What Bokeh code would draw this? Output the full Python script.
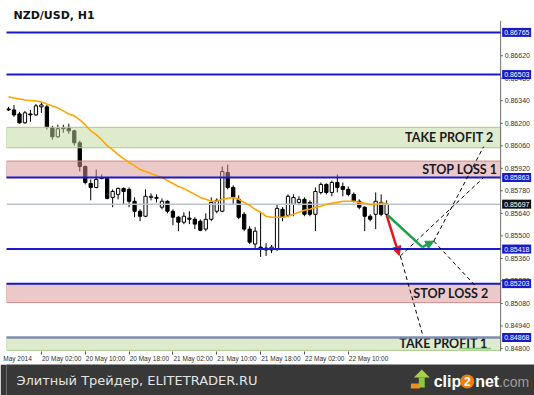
import numpy as np
from bokeh.plotting import figure
from bokeh.models import (Range1d, FixedTicker, BoxAnnotation, Span, Label, Arrow, NormalHead)
from bokeh.layouts import column
from bokeh.embed import file_html
from bokeh.resources import INLINE
from bokeh.core.properties import value

TITLE = "NZD/USD, H1"

# hourly candles, 19 May 20:00 .. 22 May 17:00
OPEN = [0.86289, 0.86283, 0.86258, 0.86203, 0.86258, 0.86252, 0.86302, 0.86302, 0.86172, 0.86116,
        0.86166, 0.86172, 0.86153, 0.86079, 0.85931, 0.85826, 0.85801, 0.85857, 0.85857, 0.85739,
        0.85758, 0.85795, 0.85789, 0.85715, 0.85653, 0.85622, 0.85739, 0.85733, 0.85678, 0.85715,
        0.85653, 0.85616, 0.85585, 0.85610, 0.85603, 0.85591, 0.85542, 0.85603, 0.85653, 0.85653,
        0.85894, 0.85801, 0.85727, 0.85634, 0.85542, 0.85449, 0.85430, 0.85424, 0.85412, 0.85418,
        0.85665, 0.85628, 0.85696, 0.85708, 0.85727, 0.85708, 0.85634, 0.85770, 0.85820, 0.85770,
        0.85832, 0.85807, 0.85789, 0.85758, 0.85715, 0.85678, 0.85622, 0.85634, 0.85708, 0.85634]
HIGH = [0.86302, 0.86314, 0.86271, 0.86277, 0.86283, 0.86320, 0.86333, 0.86314, 0.86184, 0.86191,
        0.86191, 0.86197, 0.86160, 0.86092, 0.85937, 0.85851, 0.85912, 0.85882, 0.85869, 0.85789,
        0.85801, 0.85801, 0.85801, 0.85739, 0.85665, 0.85789, 0.85764, 0.85758, 0.85733, 0.85721,
        0.85665, 0.85622, 0.85647, 0.85653, 0.85616, 0.85603, 0.85640, 0.85739, 0.85733, 0.85931,
        0.85943, 0.85814, 0.85752, 0.85647, 0.85560, 0.85554, 0.85647, 0.85455, 0.85443, 0.85696,
        0.85678, 0.85758, 0.85758, 0.85746, 0.85739, 0.85721, 0.85801, 0.85832, 0.85826, 0.85844,
        0.85882, 0.85832, 0.85807, 0.85770, 0.85727, 0.85684, 0.85634, 0.85770, 0.85758, 0.85721]
LOW = [0.86277, 0.86240, 0.86197, 0.86197, 0.86209, 0.86246, 0.86265, 0.86160, 0.86098, 0.86110,
       0.86141, 0.86135, 0.86061, 0.85900, 0.85820, 0.85721, 0.85795, 0.85851, 0.85727, 0.85678,
       0.85727, 0.85696, 0.85678, 0.85616, 0.85591, 0.85616, 0.85721, 0.85708, 0.85665, 0.85640,
       0.85566, 0.85529, 0.85573, 0.85573, 0.85542, 0.85529, 0.85529, 0.85591, 0.85640, 0.85647,
       0.85789, 0.85696, 0.85603, 0.85529, 0.85449, 0.85418, 0.85369, 0.85375, 0.85393, 0.85406,
       0.85591, 0.85616, 0.85622, 0.85690, 0.85622, 0.85622, 0.85529, 0.85758, 0.85758, 0.85746,
       0.85770, 0.85746, 0.85746, 0.85708, 0.85665, 0.85529, 0.85591, 0.85542, 0.85622, 0.85622]
CLOSE = [0.86283, 0.86252, 0.86203, 0.86265, 0.86252, 0.86308, 0.86314, 0.86178, 0.86116, 0.86166,
         0.86172, 0.86153, 0.86079, 0.85931, 0.85832, 0.85801, 0.85851, 0.85863, 0.85733, 0.85776,
         0.85795, 0.85776, 0.85715, 0.85653, 0.85622, 0.85746, 0.85746, 0.85739, 0.85715, 0.85653,
         0.85616, 0.85585, 0.85622, 0.85603, 0.85573, 0.85535, 0.85603, 0.85708, 0.85721, 0.85900,
         0.85801, 0.85739, 0.85616, 0.85542, 0.85461, 0.85529, 0.85418, 0.85412, 0.85430, 0.85671,
         0.85616, 0.85746, 0.85739, 0.85727, 0.85634, 0.85634, 0.85776, 0.85820, 0.85770, 0.85832,
         0.85801, 0.85789, 0.85758, 0.85715, 0.85678, 0.85622, 0.85603, 0.85715, 0.85634, 0.85697]
MA = [0.86364, 0.86357, 0.86351, 0.86345, 0.86342, 0.86339, 0.86333, 0.86320, 0.86308, 0.86296,
      0.86277, 0.86258, 0.86246, 0.86221, 0.86191, 0.86153, 0.86129, 0.86098, 0.86061, 0.86036,
      0.86005, 0.85980, 0.85956, 0.85937, 0.85912, 0.85900, 0.85888, 0.85875, 0.85863, 0.85844,
      0.85826, 0.85807, 0.85795, 0.85776, 0.85758, 0.85739, 0.85727, 0.85715, 0.85715, 0.85727,
      0.85733, 0.85739, 0.85727, 0.85708, 0.85690, 0.85665, 0.85647, 0.85622, 0.85616, 0.85616,
      0.85616, 0.85622, 0.85634, 0.85647, 0.85659, 0.85665, 0.85678, 0.85684, 0.85696, 0.85702,
      0.85708, 0.85715, 0.85715, 0.85715, 0.85708, 0.85702, 0.85696, 0.85696, 0.85702, 0.85702]

X_TICK_POS = [6, 14, 22, 30, 38, 46, 54, 62]          # bar index of each time tick
X_TICK_LABELS = ["20 May 02:00", "20 May 10:00", "20 May 18:00", "21 May 02:00",
                 "21 May 10:00", "21 May 18:00", "22 May 02:00", "22 May 10:00"]
FIRST_LABEL = "May 2014"
Y_TICKS = [0.84800, 0.84940, 0.85080, 0.85220, 0.85360, 0.85500, 0.85640, 0.85780, 0.85920,
           0.86060, 0.86200, 0.86340, 0.86480, 0.86620]

BLUE_LEVELS = [0.86765, 0.86503, 0.85863, 0.85418, 0.85203]
TP1_LEVEL = 0.84868
LAST_PRICE = 0.85697

ZONE_NAMES = ["TAKE PROFIT 2", "STOP LOSS 1", "STOP LOSS 2", "TAKE PROFIT  1"]
ZONE_BOTTOM = [0.86048, 0.85863, 0.85085, 0.84788]
ZONE_TOP = [0.86175, 0.85965, 0.85203, 0.84868]
ZONE_KIND = ["tp", "sl", "sl", "tp"]

# scenario arrows and dashed projections (bar index, price)
RED_X = [69.0, 71.3]
RED_Y = [0.85628, 0.85378]
GREEN_X = [69.2, 75.5, 77.6]
GREEN_Y = [0.85628, 0.85430, 0.85467]
DASH_X0 = [71.5, 77.6, 71.5, 77.6]
DASH_Y0 = [0.85375, 0.85467, 0.85375, 0.85467]
DASH_X1 = [86.7, 86.7, 75.5, 85.2]
DASH_Y1 = [0.85863, 0.86055, 0.84893, 0.85189]

assert len(OPEN) == len(HIGH) == len(LOW) == len(CLOSE) == len(MA) == 70

idx = np.arange(len(OPEN))
o = np.array(OPEN); c = np.array(CLOSE); h = np.array(HIGH); l = np.array(LOW)
up = c >= o

W, H = 534, 364
PX = 5.48                      # pixels per bar
X0 = -0.37
AXIS_X = 89.8                  # bar coordinate of the price-scale line
yr = Range1d(0.84781, 0.86839)
xr = Range1d(X0, X0 + (W - 6) / PX)

p = figure(width=W, height=H, x_range=xr, y_range=yr,
           output_backend="svg", toolbar_location=None, y_axis_location=None,
           min_border_left=6, min_border_right=0, min_border_top=20, min_border_bottom=11,
           background_fill_color="white", border_fill_color="white")
p.outline_line_color = None
p.xgrid.visible = False
p.ygrid.visible = False

p.title.text = TITLE
p.title.text_font = "DejaVu Sans"
p.title.text_font_size = "11px"
p.title.text_font_style = "bold"
p.title.text_color = "#111111"
p.title.align = "left"
p.title.offset = 7
p.title.standoff = -2

# x axis: tick marks at the hours, labels start just right of each mark
label_shift = 3.7
label_pos = [1.64] + [t + label_shift for t in X_TICK_POS]
xa = p.xaxis[0]
xa.ticker = FixedTicker(ticks=label_pos, minor_ticks=X_TICK_POS)
xa.major_label_overrides = dict(zip(label_pos, [FIRST_LABEL] + X_TICK_LABELS))
xa.major_label_text_font = "Liberation Sans"
xa.major_label_text_font_size = "6.5px"
xa.major_label_text_color = "#303030"
xa.major_tick_out = 0
xa.major_tick_in = 0
xa.minor_tick_out = 3
xa.minor_tick_in = 0
xa.major_label_standoff = 0
xa.axis_line_color = None
xa.minor_tick_line_color = "#555555"

# candles
p.segment(x0=idx, y0=l, x1=idx, y1=h, line_color="black", line_width=1)
p.vbar(x=idx[up], bottom=o[up], top=c[up], width=0.6, fill_color="white", line_color="black", line_width=1)
p.vbar(x=idx[~up], bottom=c[~up], top=o[~up], width=0.6, fill_color="black", line_color="black", line_width=1)

# zones
for b, t, kind in zip(ZONE_BOTTOM, ZONE_TOP, ZONE_KIND):
    fc, lc = ("#bfd79b", "#a9c98a") if kind == "tp" else ("#d99393", "#d08a8a")
    p.add_layout(BoxAnnotation(bottom=b, top=t, right=AXIS_X, fill_color=fc, fill_alpha=0.5,
                               line_color=lc, line_alpha=1.0, line_width=1))

# moving average
p.line(idx, MA, line_color="#ffa500", line_width=1.6, level="overlay")

# levels
n_lv = len(BLUE_LEVELS)
p.segment(x0=[X0], x1=[AXIS_X], y0=[LAST_PRICE], y1=[LAST_PRICE], line_color="#bcc2cc", line_width=1.5)
p.segment(x0=[X0] * n_lv, x1=[AXIS_X] * n_lv, y0=BLUE_LEVELS, y1=BLUE_LEVELS,
          line_color="#1a1acc", line_width=2, level="overlay")
p.segment(x0=[X0], x1=[AXIS_X], y0=[TP1_LEVEL], y1=[TP1_LEVEL], line_color="#7f8cae",
          line_width=2.5, level="overlay")

# dashed projections
p.segment(x0=DASH_X0, y0=DASH_Y0, x1=DASH_X1, y1=DASH_Y1, line_color="black",
          line_width=1, line_dash="4 3", level="overlay")

# arrows
p.add_layout(Arrow(end=NormalHead(size=9, fill_color="#e8141e", line_color="#e8141e"),
                   x_start=RED_X[0], y_start=RED_Y[0], x_end=RED_X[1], y_end=RED_Y[1],
                   line_color="#e8141e", line_width=2.5))
p.line(GREEN_X[:2], GREEN_Y[:2], line_color="#1aa348", line_width=2.5, level="overlay")
p.add_layout(Arrow(end=NormalHead(size=8, fill_color="#1aa348", line_color="#1aa348"),
                   x_start=GREEN_X[1], y_start=GREEN_Y[1], x_end=GREEN_X[2], y_end=GREEN_Y[2],
                   line_color="#1aa348", line_width=2.5))

# zone labels
label_right = [88.5, 89.2, 87.6, 88.0]
for name, b, t, xrp in zip(ZONE_NAMES, ZONE_BOTTOM, ZONE_TOP, label_right):
    ymid = (b + t) / 2
    p.add_layout(Label(x=xrp, y=ymid, text=name, text_align="right", text_baseline="middle",
                       text_font="Lato", text_font_style="bold", text_font_size="12.5px",
                       text_color="#1a1a26"))

# spell-check squiggle under TP1 label
p.line([82.3, 88.0], [0.84800, 0.84800], line_color="#2ca02c", line_width=1.5,
       line_dash="1 1", level="overlay")

# price scale on the right (line, ticks, labels) and price tags
p.add_layout(Span(location=AXIS_X, dimension="height", line_color="#707070", line_width=1))
nt = len(Y_TICKS)
p.segment(x0=[AXIS_X] * nt, x1=[AXIS_X + 2 / PX] * nt, y0=Y_TICKS, y1=Y_TICKS,
          line_color="#555555", line_width=1)
p.text(x=[AXIS_X + 4 / PX] * nt, y=Y_TICKS, text=[f"{v:.5f}" for v in Y_TICKS],
       text_font=value("Liberation Sans"), text_font_size="7px", text_color="#303030",
       text_baseline="middle")
tag_levels = BLUE_LEVELS + [TP1_LEVEL, LAST_PRICE]
tag_colors = ["#1a1acc"] * (n_lv + 1) + ["#111111"]
nt2 = len(tag_levels)
p.rect(x=[AXIS_X + 16 / PX] * nt2, y=tag_levels, width=29 / PX, height=9, height_units="screen",
       fill_color=tag_colors, line_color=None, level="overlay")
p.text(x=[AXIS_X + 3.5 / PX] * nt2, y=tag_levels, text=[f"{v:.5f}" for v in tag_levels],
       text_font=value("Liberation Sans"), text_font_size="7px", text_color="white",
       text_baseline="middle", level="overlay")

# footer band
f = figure(width=W, height=31, x_range=Range1d(0, 534), y_range=Range1d(0, 31),
           output_backend="svg", toolbar_location=None, x_axis_location=None, y_axis_location=None,
           min_border_left=0, min_border_right=0, min_border_top=0, min_border_bottom=0,
           background_fill_color="#383838", border_fill_color="#383838")
f.grid.visible = False
f.outline_line_color = None
f.text(x=[10], y=[15], text=["Элитный Трейдер, ELITETRADER.RU"], text_font=value("DejaVu Sans"),
       text_font_size="13px", text_color="#e4e4e4", text_baseline="middle")
# clip2net logo
f.quad(left=[409], right=[418], bottom=[7], top=[12], fill_color="#f0901a", line_color=None)
f.quad(left=[417], right=[423], bottom=[8], top=[18], fill_color="#8cc63e", line_color=None)
f.patch(x=[412, 420, 428], y=[18, 26, 18], fill_color="#a6d04a", line_color=None)
f.text(x=[432], y=[14], text=["clip"], text_font=value("Liberation Sans"), text_font_style="bold",
       text_font_size="16px", text_color="white", text_baseline="middle")
f.scatter(x=[466], y=[14], size=14, fill_color="#f07d0e", line_color=None)
f.text(x=[466], y=[14], text=["2"], text_font=value("Liberation Sans"), text_font_style="bold",
       text_font_size="12px", text_color="white", text_baseline="middle", text_align="center")
f.text(x=[474], y=[14], text=["net"], text_font=value("Liberation Sans"), text_font_style="bold",
       text_font_size="16px", text_color="white", text_baseline="middle")
f.text(x=[498], y=[14], text=[".com"], text_font=value("Liberation Sans"),
       text_font_size="14px", text_color="#9c9c9c", text_baseline="middle")

layout = column(p, f, spacing=0)
open("out.html", "w").write(file_html(layout, INLINE))
